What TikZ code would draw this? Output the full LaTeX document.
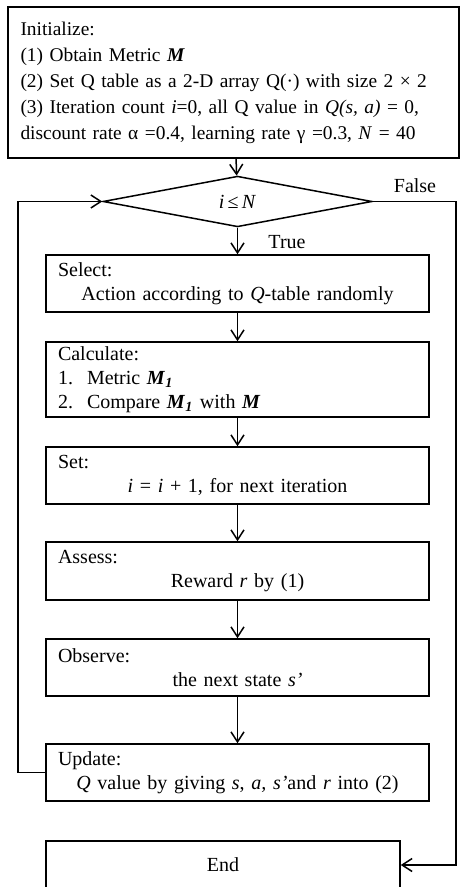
\documentclass[tikz,border=0pt]{standalone}
\usepackage{fontspec}
\setmainfont{Liberation Serif}
\usetikzlibrary{shapes.geometric,arrows.meta}

\newcommand{\bM}{\textbf{\textit{M}}}
\newcommand{\bMone}{\textbf{\textit{M}}\textsubscript{\textbf{\textit{1}}}}

\begin{document}
\begin{tikzpicture}[x=0.5pt,y=-0.5pt,line width=0.75pt,
  >={Straight Barb[length=5pt,width=6.5pt]},
  procbox/.style={draw, rectangle, text width=179.5pt, inner xsep=6pt,
    inner ysep=0pt, align=center, font=\fontsize{10}{12}\selectfont},
  decision/.style={draw, diamond, minimum width=134.5pt, minimum height=23.5pt,
    inner sep=0pt, font=\fontsize{10}{12}\selectfont},
  lbl/.style={font=\fontsize{10}{12}\selectfont}]
  \useasboundingbox (0,0) rectangle (460,887);

  \node[draw, rectangle, text width=213pt, inner xsep=6.25pt, inner ysep=0pt,
    minimum height=75.5pt, align=left, font=\fontsize{9.7}{13}\selectfont]
    (init) at (233.5,82.5) {Initialize:\\
    (1) Obtain Metric \bM\\
    (2) Set Q table as a 2-D array Q(·) with size 2 × 2\\
    (3) Iteration count \textit{i}=0, all Q value in \textit{Q(s, a)} = 0,\\
    discount rate α =0.4, learning rate γ =0.3, \textit{N} = 40};

  \node[decision] (cond) at (237.5,201.5) {\textit{i}\,≤\,\textit{N}};

  \node[procbox, minimum height=28.5pt] (select) at (237.5,283.5)
    {\makebox[\linewidth][l]{Select:}\\ Action according to \textit{Q}-table randomly};
  \node[procbox, minimum height=37.5pt, align=left] (calc) at (237.5,379.5)
    {Calculate:\\ \makebox[14.5pt][l]{1.}Metric \bMone\\
    \makebox[14.5pt][l]{2.}Compare \bMone{} with \bM};
  \node[procbox, minimum height=28.5pt] (setb) at (237.5,475.5)
    {\makebox[\linewidth][l]{Set:}\\ \textit{i} = \textit{i} + 1, for next iteration};
  \node[procbox, minimum height=29pt] (assess) at (237.5,571)
    {\makebox[\linewidth][l]{Assess:}\\ Reward \textit{r} by (1)};
  \node[procbox, minimum height=28.5pt] (observe) at (237.5,667.5)
    {\makebox[\linewidth][l]{Observe:}\\ the next state \textit{s’}};
  \node[procbox, minimum height=28.5pt] (update) at (237.5,772.5)
    {\makebox[\linewidth][l]{Update:}\\ \textit{Q} value by giving \textit{s}, \textit{a, s’}and \textit{r} into (2)};
  \node[procbox, text width=165pt, minimum height=24pt] (endb) at (223,865) {End};

  \node[lbl] (truelbl) at (287,242) {True};
  \node[lbl] (falselbl) at (415,186) {False};

  \coordinate (rgt) at (456,201.5);
  \coordinate (lft) at (18,772.5);

  \draw[->] (init) -- (cond);
  \draw[->] (cond) -- (select);
  \foreach \a/\b in {select/calc, calc/setb, setb/assess, assess/observe, observe/update}
    \draw[->] (\a) -- (\b);
  \draw[->] (cond.east) -- (rgt) |- (endb.east);
  \draw[->] (update.west) -- (lft) |- (cond.west);
\end{tikzpicture}
\end{document}
